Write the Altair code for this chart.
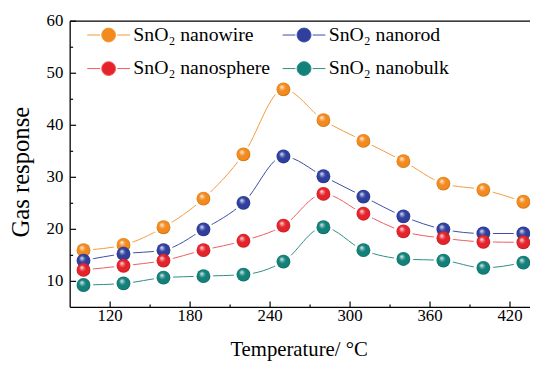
import altair as alt
import pandas as pd

temps = [100, 130, 160, 190, 220, 250, 280, 310, 340, 370, 400, 430]
nanowire = [16.0, 17.0, 20.4, 25.9, 34.4, 46.9, 41.0, 37.0, 33.1, 28.8, 27.6, 25.3]
nanorod = [14.0, 15.3, 16.0, 20.0, 25.1, 34.0, 30.2, 26.3, 22.5, 20.0, 19.2, 19.2]
nanosphere = [12.2, 13.0, 14.0, 16.0, 17.8, 20.7, 26.8, 23.0, 19.6, 18.3, 17.6, 17.5]
nanobulk = [9.3, 9.6, 10.7, 11.0, 11.3, 13.8, 20.4, 16.0, 14.3, 14.0, 12.6, 13.6]
series_names = ["SnO\u2082 nanowire", "SnO\u2082 nanorod", "SnO\u2082 nanosphere", "SnO\u2082 nanobulk"]
marker_colors = ["#F28A1E", "#2F3F9E", "#E5232B", "#13807A"]
line_colors = ["#F39A3C", "#3A4CA8", "#EE5A62", "#2C8C84"]
x_major = [120, 180, 240, 300, 360, 420]
x_minor = [150, 210, 270, 330, 390]
y_major = [10, 20, 30, 40, 50, 60]
y_minor = [15, 25, 35, 45, 55]
x_title = "Temperature/ \u00b0C"
y_title = "Gas response"

rows = []
for name, vals in zip(series_names, [nanowire, nanorod, nanosphere, nanobulk]):
    for t, v in zip(temps, vals):
        rows.append({"T": t, "R": v, "series": name})
df = pd.DataFrame(rows)

W, H = 466, 290
FONT = "Liberation Serif"
xs = alt.Scale(domain=[90, 435], nice=False, zero=False)
ys = alt.Scale(domain=[5, 60], nice=False, zero=False)
fill_scale = alt.Scale(domain=series_names, range=marker_colors)
line_scale = alt.Scale(domain=series_names, range=line_colors)

sym_path = ("M-3.1,0L-1.25,0M1.25,0L3.1,0"
            "M1,0A1,1 0 1 1 -1,0A1,1 0 1 1 1,0Z")

def make_legend():
    return alt.Legend(
        title=None, orient="none", legendX=14, legendY=4, columns=2,
        direction="horizontal",
        symbolType=sym_path, symbolSize=196, symbolStrokeWidth=1,
        symbolOffset=15, labelOffset=15, labelFont=FONT, labelFontSize=20,
        labelColor="black", columnPadding=9, rowPadding=14, padding=0,
        labelLimit=400)

base = alt.Chart(df)
X = alt.X("T:Q", scale=xs, axis=None)
Y = alt.Y("R:Q", scale=ys, axis=None)
lines = base.mark_line(interpolate="monotone", strokeWidth=1).encode(
    x=X, y=Y,
    stroke=alt.Stroke("series:N", scale=line_scale, sort=series_names, legend=make_legend()),
)
halos = base.mark_point(shape="circle", filled=True, size=380, color="white", opacity=1).encode(
    x=X, y=Y)
markers = base.mark_point(shape="circle", filled=True, size=196, opacity=1).encode(
    x=X, y=Y,
    color=alt.Color("series:N", scale=fill_scale, sort=series_names, legend=make_legend()),
)
shine = alt.RadialGradient(
    gradient="radial", x1=0.36, y1=0.3, r1=0, x2=0.5, y2=0.5, r2=0.55,
    stops=[alt.GradientStop(offset=0, color="rgba(255,255,255,0.95)"),
           alt.GradientStop(offset=0.2, color="rgba(255,255,255,0.45)"),
           alt.GradientStop(offset=0.45, color="rgba(255,255,255,0)"),
           alt.GradientStop(offset=0.8, color="rgba(0,0,0,0)"),
           alt.GradientStop(offset=1, color="rgba(0,0,0,0.28)")])
overlay = base.mark_point(shape="circle", filled=True, size=196, fill=shine, opacity=1,
                          strokeOpacity=0).encode(x=X, y=Y)

xmaj_df = pd.DataFrame({"T": x_major})
ymaj_df = pd.DataFrame({"R": y_major})
xmaj = alt.Chart(xmaj_df).mark_rule(color="black", strokeWidth=1.2).encode(
    x=X, y=alt.value(H), y2=alt.value(H - 6))
xmin = alt.Chart(pd.DataFrame({"T": x_minor})).mark_rule(color="black", strokeWidth=1.2).encode(
    x=X, y=alt.value(H), y2=alt.value(H - 3))
ymaj = alt.Chart(ymaj_df).mark_rule(color="black", strokeWidth=1.2).encode(
    y=Y, x=alt.value(0), x2=alt.value(6))
ymin = alt.Chart(pd.DataFrame({"R": y_minor})).mark_rule(color="black", strokeWidth=1.2).encode(
    y=Y, x=alt.value(0), x2=alt.value(3))

frame_df = pd.DataFrame({"k": [0]})
top = alt.Chart(frame_df).mark_rule(color="black", strokeWidth=1.3).encode(
    y=alt.value(0), x=alt.value(0), x2=alt.value(W))
bottom = alt.Chart(frame_df).mark_rule(color="black", strokeWidth=1.3).encode(
    y=alt.value(H), x=alt.value(0), x2=alt.value(W))
left = alt.Chart(frame_df).mark_rule(color="black", strokeWidth=1.3).encode(
    x=alt.value(0), y=alt.value(0), y2=alt.value(H))

xlabels = alt.Chart(xmaj_df).mark_text(font=FONT, fontSize=17, color="black",
                                        baseline="middle", align="center").encode(
    x=X, y=alt.value(H + 9), text=alt.Text("T:Q"))
ylabels = alt.Chart(ymaj_df).mark_text(font=FONT, fontSize=17, color="black",
                                        baseline="middle", align="right").encode(
    y=Y, x=alt.value(-7), text=alt.Text("R:Q"))
xtitle = alt.Chart(frame_df).mark_text(text=x_title, font=FONT, fontSize=21, color="black",
                                       baseline="alphabetic", align="center").encode(
    x=alt.value(W / 2 - 1), y=alt.value(H + 49))
ytitle = alt.Chart(frame_df).mark_text(text=y_title, font=FONT, fontSize=25, color="black",
                                       baseline="alphabetic", align="center", angle=270).encode(
    x=alt.value(-42), y=alt.value(153))

chart = alt.layer(lines, halos, markers, overlay, xmaj, xmin, ymaj, ymin, top, bottom, left,
                  xlabels, ylabels, xtitle, ytitle).properties(
    width=W, height=H, background="white",
    autosize=alt.AutoSizeParams(type="none"),
    padding={"left": 63, "top": 11, "right": 0, "bottom": 55},
).configure_view(stroke=None)

chart.save("out.html", embed_options={"renderer": "svg", "actions": False})
